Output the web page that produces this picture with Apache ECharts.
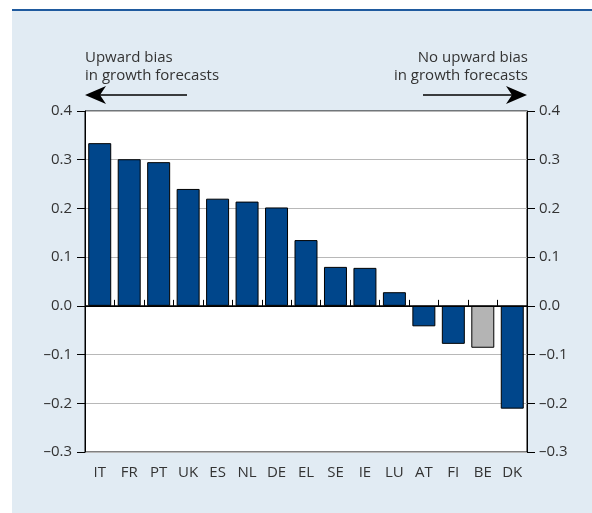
<!DOCTYPE html>
<html>
<head>
<meta charset="utf-8">
<script src="https://cdn.jsdelivr.net/npm/echarts@6/dist/echarts.min.js"></script>
<style>
  html, body { margin: 0; padding: 0; background: #fff; }
  #chart { width: 592px; height: 513px; }
</style>
</head>
<body>
<div id="chart"></div>
<script>
// Countries ordered by estimated bias in growth forecasts
const countries = ['IT', 'FR', 'PT', 'UK', 'ES', 'NL', 'DE', 'EL', 'SE', 'IE', 'LU', 'AT', 'FI', 'BE', 'DK'];
const biasValues = [0.334, 0.301, 0.295, 0.240, 0.220, 0.214, 0.202, 0.135, 0.080, 0.078, 0.028, -0.042, -0.078, -0.086, -0.211];
// Countries drawn in grey instead of blue
const greyCountries = ['BE'];
const yTicks = [-0.3, -0.2, -0.1, 0.0, 0.1, 0.2, 0.3, 0.4];

const BLUE = '#00468b';
const GREY = '#b4b4b4';
const TEXT = '#333333';
const FONT = 'Open Sans';
const FS = 15;

const fmt = v => (v < 0 ? '\u2013' : '') + Math.abs(v).toFixed(1);

const barData = countries.map((c, i) => ({
  value: biasValues[i],
  itemStyle: { color: greyCountries.includes(c) ? GREY : BLUE }
}));

const yAxisBase = {
  type: 'value',
  min: yTicks[0],
  max: yTicks[yTicks.length - 1],
  interval: 0.1,
  axisLine: { show: true, lineStyle: { color: '#000', width: 1 } },
  axisTick: { show: true, length: 8, lineStyle: { color: '#000' } },
  axisLabel: { color: TEXT, fontFamily: FONT, fontSize: FS, formatter: fmt, margin: 13 },
  splitLine: { show: false }
};

const chart = echarts.init(document.getElementById('chart'), null, { renderer: 'canvas' });

// Arrowhead polygon pointing left (dir = -1) or right (dir = 1) with tip at (x, y)
function arrowHead(x, y, dir) {
  return [[x, y], [x - dir * 21, y - 9], [x - dir * 15, y], [x - dir * 21, y + 9]];
}

chart.setOption({
  backgroundColor: '#fff',
  animation: false,
  grid: {
    left: 85, right: 65, top: 111, bottom: 61,
    show: true, backgroundColor: '#fff', borderColor: '#000', borderWidth: 1
  },
  xAxis: {
    type: 'category',
    data: countries,
    axisLine: { show: true, lineStyle: { color: '#000', width: 1 } },
    axisTick: { show: true, inside: true, length: 6, lineStyle: { color: '#000' } },
    axisLabel: { color: TEXT, fontFamily: FONT, fontSize: FS, margin: 13 }
  },
  yAxis: [
    Object.assign({}, yAxisBase, {
      position: 'left',
      splitLine: { show: true, lineStyle: { color: '#b8b8b8', width: 1 } }
    }),
    Object.assign({}, yAxisBase, { position: 'right', axisLabel: Object.assign({}, yAxisBase.axisLabel, { margin: 12 }) })
  ],
  series: [{
    type: 'bar',
    data: barData,
    barCategoryGap: '22%',
    itemStyle: { borderColor: '#000', borderWidth: 1 },
    markLine: {
      silent: true,
      symbol: 'none',
      label: { show: false },
      lineStyle: { color: '#000', width: 1.5, type: 'solid' },
      data: [{ yAxis: 0 }]
    }
  }],
  graphic: [
    { type: 'rect', z: -10, silent: true, shape: { x: 12, y: 11, width: 580, height: 502 }, style: { fill: '#e1ebf3' } },
    { type: 'rect', z: -9, silent: true, shape: { x: 12, y: 9, width: 580, height: 2 }, style: { fill: '#1f5a9e' } },
    { type: 'text', style: { text: 'Upward bias\nin growth forecasts', x: 85, y: 49, fill: TEXT, font: FS + 'px "Open Sans"', lineHeight: 18, textAlign: 'left', textVerticalAlign: 'top' } },
    { type: 'text', style: { text: 'No upward bias\nin growth forecasts', x: 528, y: 49, fill: TEXT, font: FS + 'px "Open Sans"', lineHeight: 18, textAlign: 'right', textVerticalAlign: 'top' } },
    { type: 'line', shape: { x1: 96, y1: 95, x2: 187, y2: 95 }, style: { stroke: '#000', lineWidth: 1.5 } },
    { type: 'polygon', shape: { points: arrowHead(85, 95, -1) }, style: { fill: '#000' } },
    { type: 'line', shape: { x1: 423, y1: 95, x2: 516, y2: 95 }, style: { stroke: '#000', lineWidth: 1.5 } },
    { type: 'polygon', shape: { points: arrowHead(527, 95, 1) }, style: { fill: '#000' } }
  ]
});
</script>
</body>
</html>
